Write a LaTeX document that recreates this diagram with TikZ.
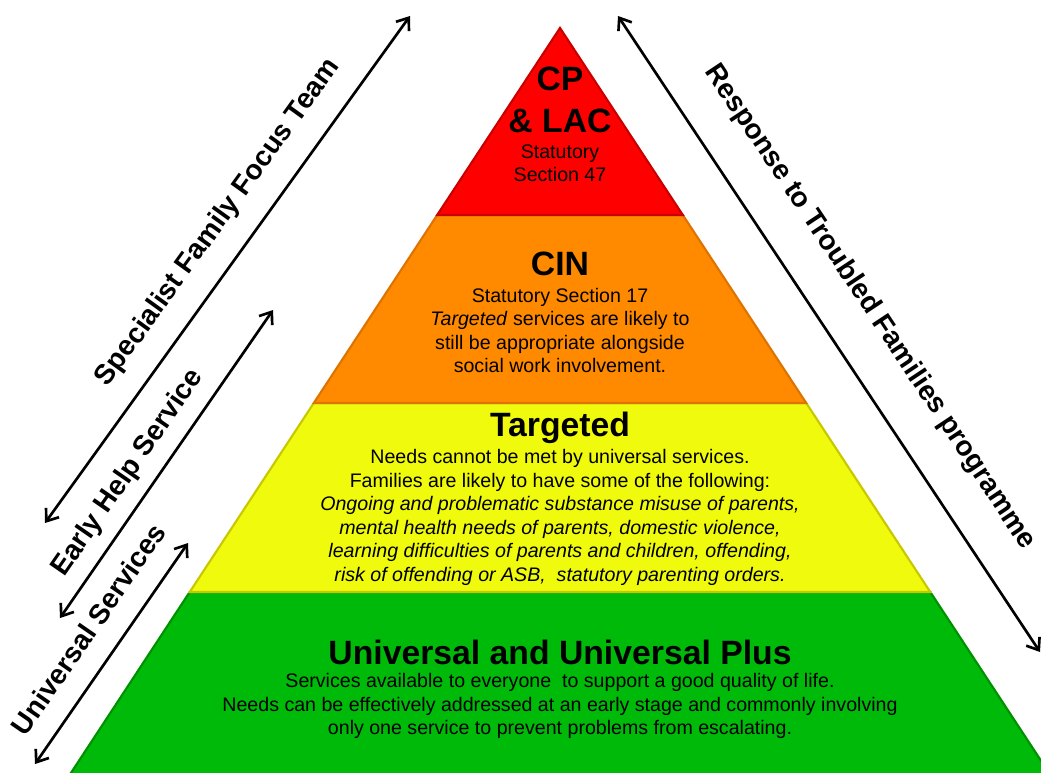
\documentclass[tikz,border=0pt]{standalone}
\usepackage{fontspec}
\setmainfont{Liberation Sans}
\usetikzlibrary{arrows.meta}
\definecolor{redF}{RGB}{255,0,0}
\definecolor{redD}{RGB}{200,0,0}
\definecolor{oraF}{RGB}{255,138,0}
\definecolor{oraD}{RGB}{222,115,0}
\definecolor{yelF}{RGB}{240,250,12}
\definecolor{yelD}{RGB}{200,200,0}
\definecolor{grnF}{RGB}{0,186,10}
\definecolor{grnD}{RGB}{0,145,0}
\tikzset{
  band/.style={line width=1.6pt, line join=miter},
  dblarrow/.style={line width=2pt, {Straight Barb[length=8pt,width=12pt]}-{Straight Barb[length=8pt,width=12pt]}},
  sidelabel/.style={font=\fontsize{21}{25}\selectfont\bfseries, inner sep=0pt},
  head/.style={font=\fontsize{25.3}{31.5}\selectfont\bfseries, align=center, inner sep=0pt},
  body/.style={font=\fontsize{14.7}{17.6}\selectfont, align=center, inner sep=0pt}
}
\begin{document}
\begin{tikzpicture}[x=0.75pt,y=-0.75pt]
\useasboundingbox (0,0) rectangle (1041,773);
\begin{scope}
\clip (0,0) rectangle (1041,773);
\draw[band, fill=grnF, draw=grnD] (189.7,592) -- (930.3,592) -- (1053.7,780) -- (66.3,780) -- cycle;
\draw[band, fill=yelF, draw=yelD] (313.8,403) -- (806.2,403) -- (930.3,592) -- (189.7,592) -- cycle;
\draw[band, fill=oraF, draw=oraD] (437.2,215) -- (682.8,215) -- (806.2,403) -- (313.8,403) -- cycle;
\draw[band, fill=redF, draw=redD] (560,28) -- (682.8,215) -- (437.2,215) -- cycle;
\end{scope}

% band texts
\node[head] (cp) at (560,100) {CP\\\& LAC};
\node[body] (cpb) at (560,163.5) {Statutory\\Section 47};
\node[head] (cin) at (560,264) {CIN};
\node[body] (cinb) at (560,330.5) {Statutory Section 17\\\textit{Targeted} services are likely to\\still be appropriate alongside\\social work involvement.};
\node[head] (tg) at (560,428) {Targeted};
\node[body] (tgb) at (560,517.5) {Needs cannot be met by universal services.\\Families are likely to have some of the following:\\\textit{Ongoing and problematic substance misuse of parents,}\\\textit{mental health needs of parents, domestic violence,}\\\textit{learning difficulties of parents and children, offending,}\\\textit{risk of offending or ASB,\ \ statutory parenting orders.}};
\node[head] (un) at (560,652) {Universal and Universal Plus};
\node[body] (unb) at (560,706) {Services available to everyone\ \ to support a good quality of life.\\Needs can be effectively addressed at an early stage and commonly involving\\only one service to prevent problems from escalating.};

% arrows
\coordinate (sA) at (45,523);
\coordinate (sB) at (410,16);
\coordinate (eA) at (60,618);
\coordinate (eB) at (273,310);
\coordinate (uA) at (35,764);
\coordinate (uB) at (188,543);
\coordinate (rA) at (618,16);
\coordinate (rB) at (1040,652);
\draw[dblarrow] (sA) -- (sB);
\draw[dblarrow] (eA) -- (eB);
\draw[dblarrow] (uA) -- (uB);
\draw[dblarrow] (rA) -- (rB);

% side labels
\node[sidelabel, rotate=54.2] (spec) at (218,223) {Specialist Family Focus Team};
\node[sidelabel, rotate=55.3] (early) at (128,473) {Early Help Service};
\node[sidelabel, rotate=55.3] (univ) at (88.5,629) {Universal Services};
\node[sidelabel, rotate=-56.4] (resp) at (870,307) {Response to Troubled Families programme};
\end{tikzpicture}
\end{document}
